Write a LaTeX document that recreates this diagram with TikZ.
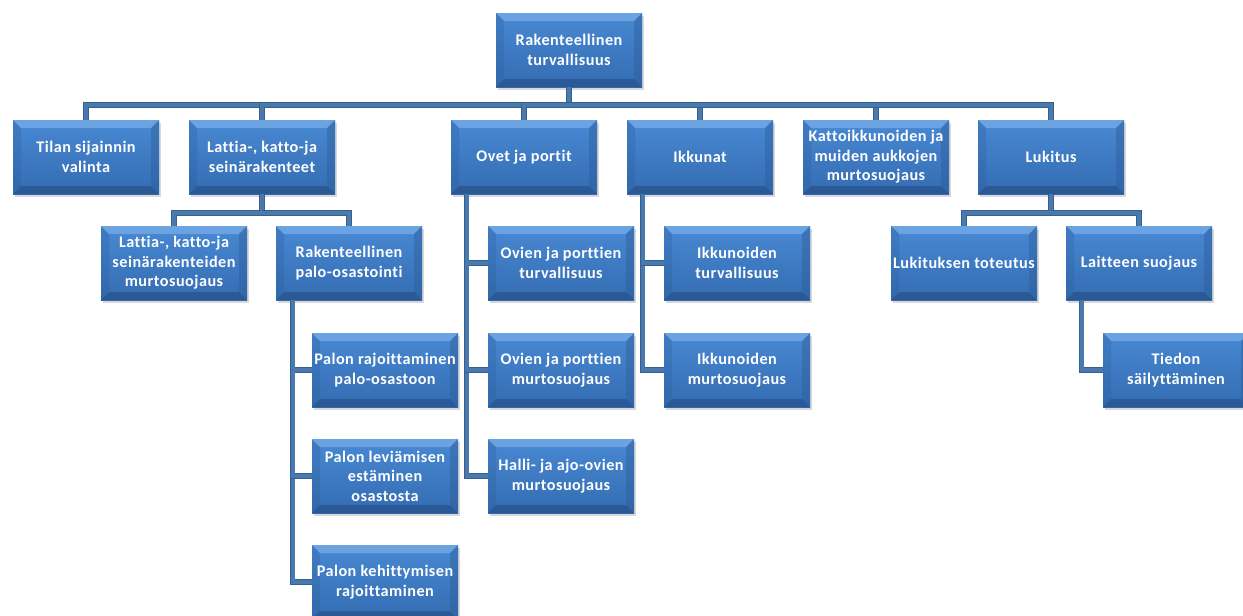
\documentclass[tikz,border=0pt]{standalone}
\usepackage{fontspec}
\setmainfont{Carlito}[LetterSpace=3,Ligatures=NoCommon]
\usetikzlibrary{calc,positioning,shadows}
\definecolor{boxtop}{HTML}{4889D3}
\definecolor{boxbot}{HTML}{346CB2}
\definecolor{bevlight}{HTML}{7FB2EC}
\definecolor{bevdark}{HTML}{22497D}
\definecolor{bevside}{HTML}{2E5E9C}
\definecolor{linkout}{HTML}{34608E}
\definecolor{linkin}{HTML}{4A79AE}

\begin{document}
\begin{tikzpicture}[x=1pt,y=-1pt,
  blk/.style={minimum width=146pt,minimum height=74pt,inner xsep=0pt,align=center,
    top color=boxtop,bottom color=boxbot,text=white,font=\fontsize{16.2}{19.5}\selectfont\bfseries,
    drop shadow={shadow xshift=2pt,shadow yshift=-3pt,opacity=.3},
    path picture={
      \fill[bevlight,opacity=.65] (path picture bounding box.north west) -- (path picture bounding box.north east)
        -- ([xshift=-8pt,yshift=-8pt]path picture bounding box.north east) -- ([xshift=8pt,yshift=-8pt]path picture bounding box.north west) -- cycle;
      \fill[bevdark,opacity=.55] (path picture bounding box.south west) -- (path picture bounding box.south east)
        -- ([xshift=-8pt,yshift=8pt]path picture bounding box.south east) -- ([xshift=8pt,yshift=8pt]path picture bounding box.south west) -- cycle;
      \fill[bevside,opacity=.3] (path picture bounding box.north west) -- ([xshift=8pt,yshift=-8pt]path picture bounding box.north west)
        -- ([xshift=8pt,yshift=8pt]path picture bounding box.south west) -- (path picture bounding box.south west) -- cycle;
      \fill[bevside,opacity=.45] (path picture bounding box.north east) -- ([xshift=-8pt,yshift=-8pt]path picture bounding box.north east)
        -- ([xshift=-8pt,yshift=8pt]path picture bounding box.south east) -- (path picture bounding box.south east) -- cycle;
    }},
  link/.style={draw=linkout,double=linkin,double distance=3.4pt,line width=.9pt,line join=miter}]
  \clip (0,0) rectangle (1243,616);
  \fill[white] (0,0) rectangle (1243,616);

  % top and first level
  \node[blk] (root) at (569,50) {Rakenteellinen\\turvallisuus};
  \node[blk] (tila) at (86,157) {Tilan sijainnin\\valinta};
  \node[blk] (latt) at (262,157) {Lattia-, katto-ja\\seinärakenteet};
  \node[blk] (ovet) at (524,157) {Ovet ja portit};
  \node[blk] (ikk) at (700,157) {Ikkunat};
  \node[blk] (katto) at (876,157) {Kattoikkunoiden ja\\muiden aukkojen\\murtosuojaus};
  \node[blk] (luk) at (1051,157) {Lukitus};

  % second level
  \node[blk] (lmurto) at (174,263) {Lattia-, katto-ja\\seinärakenteiden\\murtosuojaus};
  \node[blk] (palo) at (349,263) {Rakenteellinen\\palo-osastointi};
  \node[blk] (ovt) at (561,263) {Ovien ja porttien\\turvallisuus};
  \node[blk] (ikt) at (737,263) {Ikkunoiden\\turvallisuus};
  \node[blk] (lukt) at (964,263) {Lukituksen toteutus};
  \node[blk] (lait) at (1139,263) {Laitteen suojaus};

  % lower levels
  \node[blk] (praj) at (385,370) {Palon rajoittaminen\\palo-osastoon};
  \node[blk] (plev) at (385,476) {Palon leviämisen\\estäminen\\osastosta};
  \node[blk] (pkeh) at (385,582) {Palon kehittymisen\\rajoittaminen};
  \node[blk] (ovm) at (561,370) {Ovien ja porttien\\murtosuojaus};
  \node[blk] (halli) at (561,476) {Halli- ja ajo-ovien\\murtosuojaus};
  \node[blk] (ikm) at (737,370) {Ikkunoiden\\murtosuojaus};
  \node[blk] (tied) at (1176,370) {Tiedon\\säilyttäminen};

  % connectors
  \coordinate (bus) at (569,105);
  \draw[link] (root.south) -- (bus);
  \foreach \n in {tila,latt,ovet,ikk,katto,luk}
    \draw[link] (bus) -| (\n.north);
  \coordinate (latbus) at (262,213);
  \draw[link] (latt.south) -- (latbus) -| (lmurto.north);
  \draw[link] (latbus) -| (palo.north);
  \coordinate (lukbus) at (1051,213);
  \draw[link] (luk.south) -- (lukbus) -| (lukt.north);
  \draw[link] (lukbus) -| (lait.north);
  \draw[link] ([xshift=17pt]palo.south west) |- (pkeh.west);
  \foreach \n in {praj,plev}
    \draw[link] ([xshift=17pt]palo.south west) |- (\n.west);
  \draw[link] ([xshift=16pt]ovet.south west) |- (halli.west);
  \foreach \n in {ovt,ovm}
    \draw[link] ([xshift=16pt]ovet.south west) |- (\n.west);
  \draw[link] ([xshift=16pt]ikk.south west) |- (ikm.west);
  \draw[link] ([xshift=16pt]ikk.south west) |- (ikt.west);
  \draw[link] ([xshift=16pt]lait.south west) |- (tied.west);
\end{tikzpicture}
\end{document}
